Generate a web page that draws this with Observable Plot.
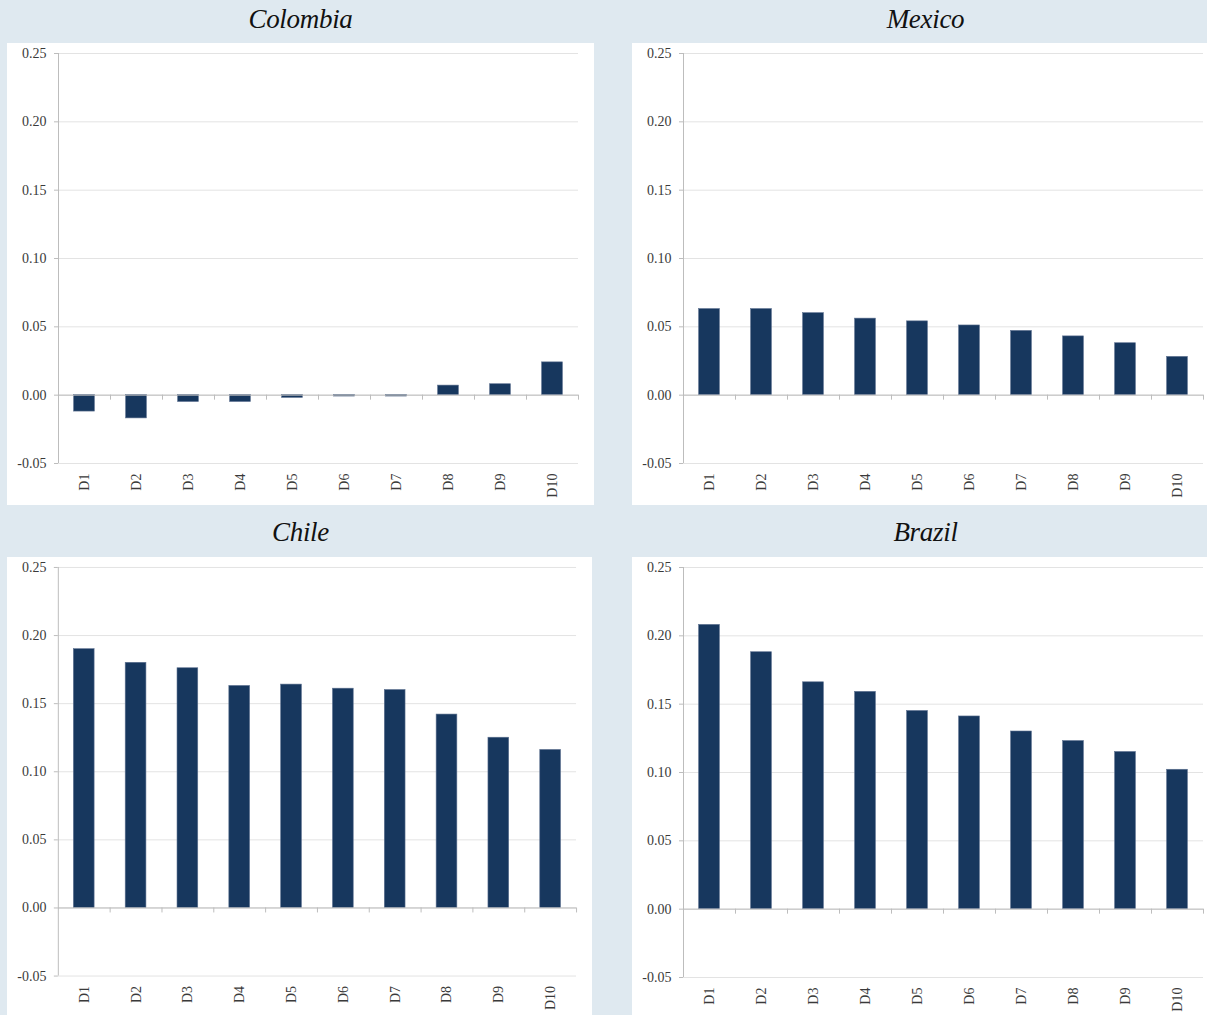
<!DOCTYPE html>
<html>
<head>
<meta charset="utf-8">
<script src="https://cdn.jsdelivr.net/npm/d3@7"></script>
<script src="https://cdn.jsdelivr.net/npm/@observablehq/plot@0.6"></script>
<style>
  html, body { margin: 0; padding: 0; }
  body { width: 1207px; height: 1015px; overflow: hidden; background: #dfe9f0; position: relative; font-family: "Liberation Serif", "DejaVu Serif", serif; }
  .title { position: absolute; text-align: center; font-style: italic; font-size: 27px; color: #111; font-family: "Liberation Serif", serif; letter-spacing: -0.3px; }
  .box { position: absolute; background: #fff; overflow: hidden; }
  .box svg { display: block; }
  .box svg text { font-size: 14px; font-family: "Liberation Serif", serif; fill: #3a3a3a; }
</style>
</head>
<body>
<div id="root"></div>
<script>
// ---- data ----
const deciles = ["D1","D2","D3","D4","D5","D6","D7","D8","D9","D10"];
const colombia = [-0.012, -0.017, -0.005, -0.005, -0.002, -0.001, -0.001, 0.007, 0.008, 0.024];
const mexico   = [0.063, 0.063, 0.060, 0.056, 0.054, 0.051, 0.047, 0.043, 0.038, 0.028];
const chile    = [0.190, 0.180, 0.176, 0.163, 0.164, 0.161, 0.160, 0.142, 0.125, 0.116];
const brazil   = [0.208, 0.188, 0.166, 0.159, 0.145, 0.141, 0.130, 0.123, 0.115, 0.102];
const yTicks = [-0.05, 0, 0.05, 0.10, 0.15, 0.20, 0.25];

const panels = [
  {name: "Colombia", values: colombia, titleX: 7,   titleY: 4,   boxX: 7,   boxY: 43,  boxW: 587},
  {name: "Mexico",   values: mexico,   titleX: 632, titleY: 4,   boxX: 632, boxY: 43,  boxW: 587},
  {name: "Chile",    values: chile,    titleX: 7,   titleY: 517, boxX: 7,   boxY: 557, boxW: 585},
  {name: "Brazil",   values: brazil,  titleX: 632, titleY: 517, boxX: 632, boxY: 557, boxW: 587}
];

const root = document.getElementById("root");

for (const p of panels) {
  const data = deciles.map((d, i) => ({label: d, i: i + 1, value: p.values[i]}));
  const bounds = d3.range(0.5, deciles.length + 1, 1);

  const t = document.createElement("div");
  t.className = "title";
  t.style.left = p.titleX + "px";
  t.style.top = p.titleY + "px";
  t.style.width = "587px";
  t.textContent = p.name;
  root.appendChild(t);

  const box = document.createElement("div");
  box.className = "box";
  box.style.left = p.boxX + "px";
  box.style.top = p.boxY + "px";
  box.style.width = p.boxW + "px";
  box.style.height = "462px";

  const chart = Plot.plot({
    width: 587,
    height: 462,
    marginLeft: 51,
    marginRight: 16,
    marginTop: 10,
    marginBottom: 42,
    style: {fontFamily: "Liberation Serif, serif", fontSize: "14px", color: "#3a3a3a", background: "transparent"},
    x: {domain: [0.5, deciles.length + 0.5]},
    y: {domain: [-0.05, 0.25]},
    marks: [
      Plot.gridY(yTicks, {stroke: "#e3e3e3", strokeOpacity: 1}),
      Plot.ruleX([0.5], {y1: -0.05, y2: 0.25, stroke: "#bdbdbd"}),
      Plot.axisY(yTicks, {tickSize: 4, tickPadding: 8, stroke: "#bdbdbd", tickFormat: d => d.toFixed(2), label: null}),
      Plot.rectY(data, {x1: d => d.i - 0.2, x2: d => d.i + 0.2, y1: 0, y2: "value", fill: "#17375e", stroke: "#5d7190", strokeWidth: 0.6}),
      Plot.ruleY([0], {stroke: "#bdbdbd"}),
      Plot.ruleX(bounds.slice(1), {x: d => d, y1: 0, y2: 0, insetBottom: -5, stroke: "#bdbdbd"}),
      Plot.axisX(deciles.map((d, i) => i + 1), {tickSize: 0, tickPadding: 10, tickRotate: -90, tickFormat: i => deciles[i - 1], label: null})
    ]
  });
  box.appendChild(chart);
  root.appendChild(box);
}
</script>
</body>
</html>
